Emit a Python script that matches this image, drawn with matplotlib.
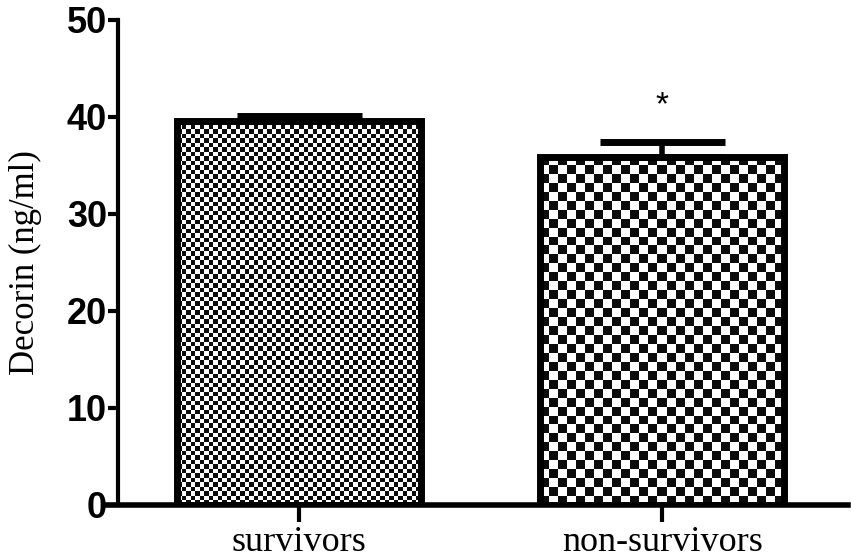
import numpy as np
import matplotlib
matplotlib.use("Agg")
import matplotlib.pyplot as plt

groups = ["survivors", "non-survivors"]
means = [39.6, 35.9]
sems = [0.5, 1.5]
cells = [54, 27]  # checker cells across each bar
star_y = 41.2


def checker(ax, bar, ncols, sub=8, fill=8):
    # checker fill, clipped to the bar
    x, y = bar.get_xy()
    w, h = bar.get_width(), bar.get_height()
    p0 = ax.transData.transform((x, y))
    p1 = ax.transData.transform((x + w, y + h))
    nrows = int(round(ncols * (p1[1] - p0[1]) / (p1[0] - p0[0])))
    a = np.ones((nrows * sub, ncols * sub))
    for r in range(nrows):
        for c in range(ncols):
            if (r + c) % 2 == 0:
                a[r * sub:r * sub + fill, c * sub:c * sub + fill] = 0.05
    im = ax.imshow(a, cmap="gray", vmin=0, vmax=1, extent=(x, x + w, y, y + h),
                   origin="lower", interpolation="nearest", aspect="auto", zorder=1)
    im.set_clip_path(bar)


fig = plt.figure(figsize=(8.51, 5.58), dpi=100)
ax = fig.add_axes([0.1387, 0.095, 0.8578, 0.8692])

xpos = np.arange(len(groups))
bars = ax.bar(xpos, means, width=0.672, facecolor="none", edgecolor="black",
              linewidth=5, zorder=3)
ax.errorbar(xpos, means, yerr=[np.zeros(len(sems)), sems], fmt="none", ecolor="black",
            elinewidth=4, capsize=45, capthick=5, zorder=2)
ax.text(xpos[1], star_y, "*", ha="center", va="center", fontsize=24,
        family="Liberation Sans")

ax.set_xlim(-0.4986, 1.512)
ax.set_ylim(0, 50)

for b, n in zip(bars, cells):
    checker(ax, b, n)
ax.set_xlim(-0.4986, 1.512)
ax.set_ylim(0, 50)

ax.spines["top"].set_visible(False)
ax.spines["right"].set_visible(False)
ax.spines["left"].set_linewidth(3)
ax.spines["bottom"].set_linewidth(4)
ax.spines["bottom"].set_bounds(-0.535, 1.512)

ax.set_yticks([0, 10, 20, 30, 40, 50])
ax.set_yticklabels(["0", "10", "20", "30", "40", "50"], fontsize=26,
                   fontweight="bold", family=["Liberation Sans Narrow", "Liberation Sans"])
ax.tick_params(axis="y", length=7, width=3, pad=1)
ax.set_xticks(xpos)
ax.set_xticklabels(groups, fontsize=26, family="Liberation Serif")
ax.tick_params(axis="x", length=12, width=3, pad=3)

ax.set_ylabel("Decorin (ng/ml)", fontsize=25, family="Liberation Serif", labelpad=18)

fig.savefig("out.png", dpi=100)
